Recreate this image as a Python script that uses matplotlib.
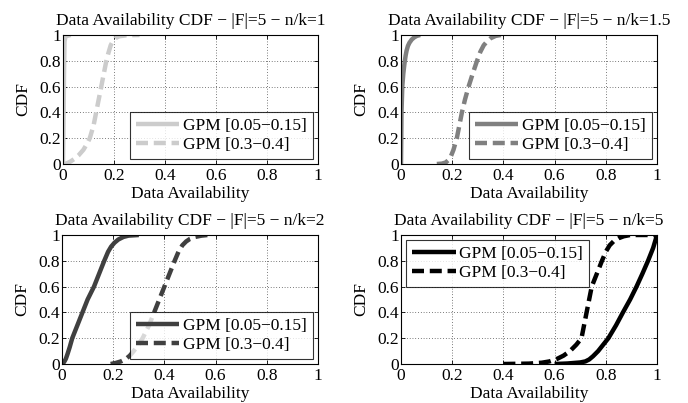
import numpy as np
import matplotlib.pyplot as plt

plt.rcParams['font.family'] = ['Liberation Serif', 'DejaVu Serif']

# CDF curves: x (availability) at given CDF levels
# n/k = 1
nk1_low_x = [0.0, 0.002, 0.004, 0.006, 0.01, 0.03]
nk1_low_y = [0.0, 0.3, 0.7, 0.95, 0.99, 1.0]
nk1_high_x = [0.0, 0.015, 0.03, 0.045, 0.06, 0.08, 0.095, 0.105, 0.12, 0.13, 0.14, 0.15, 0.16, 0.17,
              0.178, 0.187, 0.195, 0.205, 0.22, 0.25, 0.3]
nk1_high_y = [0.0, 0.005, 0.02, 0.04, 0.065, 0.11, 0.16, 0.2, 0.3, 0.4, 0.5, 0.6, 0.7, 0.8,
              0.86, 0.92, 0.95, 0.975, 0.99, 0.998, 1.0]

# n/k = 1.5
nk15_low_x = [0.0, 0.002, 0.005, 0.009, 0.013, 0.018, 0.022, 0.027, 0.033, 0.042, 0.052, 0.062, 0.075]
nk15_low_y = [0.0, 0.4, 0.6, 0.7, 0.77, 0.84, 0.88, 0.915, 0.94, 0.965, 0.982, 0.993, 1.0]
nk15_high_x = [0.14, 0.16, 0.175, 0.185, 0.195, 0.205, 0.218, 0.238, 0.25, 0.264, 0.28, 0.297,
               0.31, 0.323, 0.336, 0.35, 0.37, 0.39]
nk15_high_y = [0.0, 0.003, 0.012, 0.03, 0.06, 0.11, 0.2, 0.4, 0.5, 0.6, 0.7, 0.8,
               0.87, 0.92, 0.95, 0.975, 0.993, 1.0]

# n/k = 2
nk2_low_x = [0.0, 0.008, 0.015, 0.022, 0.03, 0.04, 0.06, 0.08, 0.1, 0.125, 0.145, 0.165, 0.18,
             0.192, 0.205, 0.22, 0.24, 0.26, 0.3]
nk2_low_y = [0.0, 0.015, 0.04, 0.08, 0.13, 0.2, 0.3, 0.4, 0.5, 0.6, 0.7, 0.8, 0.87,
             0.91, 0.94, 0.965, 0.985, 0.995, 1.0]
nk2_high_x = [0.19, 0.21, 0.23, 0.25, 0.265, 0.28, 0.295, 0.315, 0.34, 0.36, 0.38, 0.40, 0.42, 0.44,
              0.455, 0.47, 0.485, 0.5, 0.52, 0.545, 0.57]
nk2_high_y = [0.0, 0.008, 0.02, 0.04, 0.065, 0.1, 0.14, 0.2, 0.3, 0.4, 0.5, 0.6, 0.7, 0.8,
              0.87, 0.92, 0.95, 0.97, 0.985, 0.995, 1.0]

# n/k = 5
nk5_low_x = [0.6, 0.65, 0.7, 0.72, 0.735, 0.75, 0.77, 0.79, 0.81, 0.84, 0.867, 0.895, 0.92, 0.943,
             0.965, 0.985, 1.0]
nk5_low_y = [0.0, 0.004, 0.012, 0.02, 0.035, 0.06, 0.1, 0.15, 0.2, 0.3, 0.4, 0.5, 0.6, 0.7,
             0.8, 0.9, 1.0]
nk5_high_x = [0.4, 0.5, 0.55, 0.58, 0.61, 0.635, 0.66, 0.685, 0.705, 0.725, 0.745, 0.765, 0.785,
              0.8, 0.815, 0.83, 0.85, 0.87, 0.895, 1.0]
nk5_high_y = [0.0, 0.003, 0.01, 0.02, 0.04, 0.065, 0.1, 0.15, 0.2, 0.4, 0.6, 0.7, 0.8,
              0.87, 0.92, 0.95, 0.975, 0.99, 1.0, 1.0]

titles = ['Data Availability CDF \u2212 |F|=5 \u2212 n/k=1',
          'Data Availability CDF \u2212 |F|=5 \u2212 n/k=1.5',
          'Data Availability CDF \u2212 |F|=5 \u2212 n/k=2',
          'Data Availability CDF \u2212 |F|=5 \u2212 n/k=5']
legend_labels = ['GPM [0.05\u22120.15]', 'GPM [0.3\u22120.4]']
ticks = [0, 0.2, 0.4, 0.6, 0.8, 1]
tick_labels = ['0', '0.2', '0.4', '0.6', '0.8', '1']

panels = [
    (nk1_low_x, nk1_low_y, nk1_high_x, nk1_high_y, (0.8, 0.8, 0.8), 'lower right'),
    (nk15_low_x, nk15_low_y, nk15_high_x, nk15_high_y, (0.5, 0.5, 0.5), 'lower right'),
    (nk2_low_x, nk2_low_y, nk2_high_x, nk2_high_y, (0.25, 0.25, 0.25), 'lower right'),
    (nk5_low_x, nk5_low_y, nk5_high_x, nk5_high_y, (0.0, 0.0, 0.0), 'upper left'),
]

W, H = 688, 403
# axes boxes in pixels: left, right, top, bottom
boxes = [(63, 318, 35, 164), (401, 657, 35, 164),
         (62, 318, 235, 364), (401, 657, 235, 364)]

fs = 12.5
fig = plt.figure(figsize=(W / 100, H / 100), dpi=100)

for i, (lx, ly, hx, hy, col, loc) in enumerate(panels):
    l, r, t, b = boxes[i]
    ax = fig.add_axes([l / W, (H - b) / H, (r - l) / W, (b - t) / H])
    ax.plot(lx, ly, color=col, lw=3.2, solid_capstyle='butt', label=legend_labels[0])
    ax.plot(hx, hy, color=col, lw=3.2, ls=(0, (2.7, 1.3)), label=legend_labels[1])
    ax.set_xlim(0, 1)
    ax.set_ylim(0, 1)
    ax.set_xticks(ticks)
    ax.set_yticks(ticks)
    ax.set_xticklabels(tick_labels)
    ax.set_yticklabels(tick_labels)
    ax.tick_params(direction='in', top=True, right=True, labelsize=fs, length=3, pad=1.5, width=0.6)
    ax.tick_params(axis='x', pad=3)
    ax.grid(True, color='black', ls=(0, (1, 3)), lw=0.5)
    for s in ax.spines.values():
        s.set_linewidth(0.8)
    ax.set_title(titles[i], fontsize=fs, pad=7)
    ax.set_xlabel('Data Availability', fontsize=fs, labelpad=1)
    ax.set_ylabel('CDF', fontsize=fs, labelpad=6)
    leg = ax.legend(loc=loc, fontsize=fs, frameon=True, fancybox=False, handlelength=2.5,
                    borderpad=0.35, labelspacing=0.15, handletextpad=0.2, borderaxespad=0.3)
    leg.get_frame().set_edgecolor('black')
    leg.get_frame().set_linewidth(0.8)

fig.savefig('out.png', dpi=100)
